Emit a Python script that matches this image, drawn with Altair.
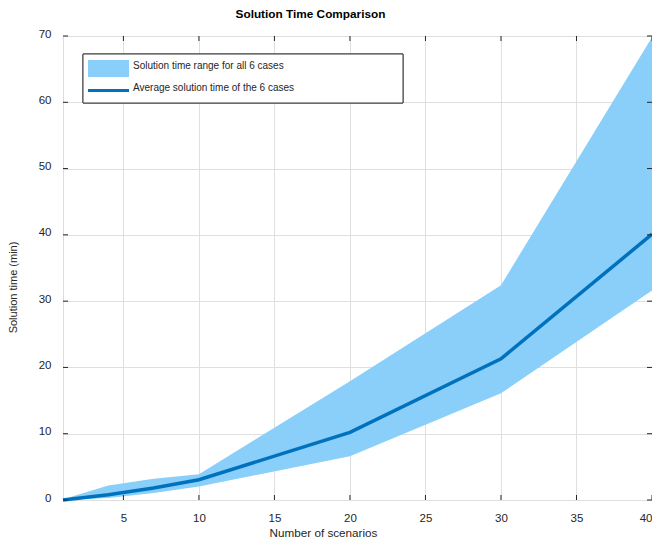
import altair as alt
import pandas as pd

# Data
scenarios = [1, 4, 7, 10, 20, 30, 40]
upper = [0.1, 2.2, 3.2, 3.9, 17.9, 32.4, 69.8]
lower = [0.0, 0.3, 1.05, 2.05, 6.6, 16.1, 31.6]
average = [0.0, 0.8, 1.8, 3.05, 10.2, 21.3, 40.1]

x_ticks = [5, 10, 15, 20, 25, 30, 35, 40]
y_ticks = [0, 10, 20, 30, 40, 50, 60, 70]

legend_labels = ["Solution time range for all 6 cases", "Average solution time of the 6 cases"]

BAND = "#89CFFA"
LINE = "#0072BD"
INK = "#262626"
FONT = "Liberation Sans"

W, H = 589, 464

df = pd.DataFrame({"n": scenarios, "lo": lower, "hi": upper, "avg": average})
xt = pd.DataFrame({"t": x_ticks})
yt = pd.DataFrame({"t": y_ticks})

xscale = alt.Scale(domain=[1, 40], nice=False, zero=False)
yscale = alt.Scale(domain=[0, 70], nice=False, zero=False)

xaxis = alt.Axis(values=x_ticks, title="Number of scenarios", grid=True, gridColor="#dfdfdf",
                 domain=False, ticks=False, labelPadding=12, labelFontSize=11.5, labelColor=INK,
                 labelFont=FONT, labelFlush=True, titleFont=FONT, titleFontSize=11.7,
                 titleFontWeight="normal", titleColor=INK, titleX=260, titleY=27)
yaxis = alt.Axis(values=y_ticks, title="Solution time (min)", grid=True, gridColor="#dfdfdf",
                 domain=False, ticks=False, labelPadding=12, labelFontSize=11.5, labelColor=INK,
                 labelFont=FONT, labelOffset=-2, titleFont=FONT, titleFontSize=11,
                 titleFontWeight="normal", titleColor=INK, titleX=-45, titleY=251)

base = alt.Chart(df)

band = base.mark_area(color=BAND, opacity=1).encode(
    x=alt.X("n:Q", scale=xscale, axis=xaxis),
    y=alt.Y("lo:Q", scale=yscale, axis=yaxis),
    y2="hi:Q",
)

line = base.mark_line(color=LINE, strokeWidth=3.5).encode(
    x=alt.X("n:Q", scale=xscale),
    y=alt.Y("avg:Q", scale=yscale),
)

# inward ticks on all four sides
xt_bottom = alt.Chart(xt).mark_rule(color=INK, strokeWidth=1).encode(
    x=alt.X("t:Q", scale=xscale), y=alt.value(H), y2=alt.value(H - 5))
xt_top = alt.Chart(xt).mark_rule(color=INK, strokeWidth=1).encode(
    x=alt.X("t:Q", scale=xscale), y=alt.value(0), y2=alt.value(5))
yt_left = alt.Chart(yt).mark_rule(color=INK, strokeWidth=1).encode(
    y=alt.Y("t:Q", scale=yscale), x=alt.value(0), x2=alt.value(5))
yt_right = alt.Chart(yt).mark_rule(color=INK, strokeWidth=1).encode(
    y=alt.Y("t:Q", scale=yscale), x=alt.value(W), x2=alt.value(W - 5))

# legend box
leg = pd.DataFrame({"label": legend_labels})
leg_box = alt.Chart(leg).mark_rect(fill="white", stroke="#3a3a3a", strokeWidth=1).encode(
    x=alt.value(20), x2=alt.value(340), y=alt.value(18), y2=alt.value(67))
leg_fill = alt.Chart(leg).mark_rect(fill=BAND).encode(
    x=alt.value(25), x2=alt.value(66), y=alt.value(24), y2=alt.value(41))
leg_line = alt.Chart(leg).mark_rule(color=LINE, strokeWidth=3).encode(
    x=alt.value(25), x2=alt.value(66), y=alt.value(54.5))
leg_t1 = alt.Chart(leg.iloc[[0]]).mark_text(align="left", baseline="middle", font=FONT,
                                            fontSize=10, color=INK).encode(
    x=alt.value(70), y=alt.value(30), text="label:N")
leg_t2 = alt.Chart(leg.iloc[[1]]).mark_text(align="left", baseline="middle", font=FONT,
                                            fontSize=10, color=INK).encode(
    x=alt.value(70), y=alt.value(51.5), text="label:N")

chart = alt.layer(
    band, line, xt_bottom, xt_top, yt_left, yt_right,
    leg_box, leg_fill, leg_line, leg_t1, leg_t2,
).properties(
    width=W, height=H,
    title=alt.TitleParams("Solution Time Comparison", font=FONT, fontSize=11.8, fontWeight="bold",
                          color="#000000", anchor="middle", dx=-47, offset=7),
    autosize=alt.AutoSizeParams(type="none"),
    padding={"left": 55, "top": 28, "right": 0, "bottom": 40},
).configure_view(stroke=INK, strokeWidth=1).configure(background="white")

chart.save("out.html", embed_options={"renderer": "svg", "actions": False})
